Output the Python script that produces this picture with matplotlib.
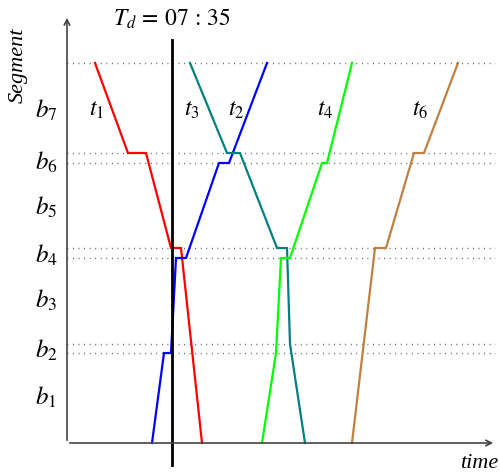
import matplotlib
matplotlib.use("Agg")
import matplotlib.pyplot as plt

plt.rcParams['mathtext.fontset'] = 'stix'
plt.rcParams['font.family'] = ['Liberation Serif', 'DejaVu Serif']

# Datos (tiempo en unidades arbitrarias, posicion a lo largo de la linea)
top = 380
stop_lines = [290, 280, 195, 185, 99, 90]
seg_labels = ['$b_7$', '$b_6$', '$b_5$', '$b_4$', '$b_3$', '$b_2$', '$b_1$']
seg_pos = [333, 281, 236, 188, 143, 93, 46]

t_d = 105

trains = {
    't1': ([28, 61, 79, 104, 114, 135], [380, 290, 290, 195, 195, 0], '#ff0000'),
    't2': ([85, 97, 104, 109, 119, 152, 162, 200], [0, 90, 90, 185, 185, 280, 280, 380], '#0000ff'),
    't3': ([123, 160, 173, 210, 220, 223, 238], [380, 290, 290, 195, 195, 99, 0], '#008080'),
    't4': ([195, 209, 214, 223, 255, 260, 285], [0, 90, 185, 185, 280, 280, 380], '#00ff00'),
    't6': ([285, 308, 319, 347, 357, 391], [0, 195, 195, 290, 290, 380], '#bf8040'),
}
train_label_x = {'t1': 30, 't3': 125, 't2': 169, 't4': 258, 't6': 353}
train_label_y = 333

fig = plt.figure(figsize=(5, 4.73), dpi=100)
ax = fig.add_axes([0, 0, 1, 1])
ax.set_xlim(-67, 433)
ax.set_ylim(-30, 443)
ax.axis('off')

# lineas punteadas de segmentos
for y in [top] + stop_lines:
    ax.plot([0, 428], [y, y], color='#444444', lw=1.0, linestyle=(0, (0.6, 3.4)))

# ejes con flechas
ax.annotate('', xy=(0, 428), xytext=(0, 0),
            arrowprops=dict(arrowstyle='->', color='#444444', lw=1.2))
ax.annotate('', xy=(429, 0), xytext=(0, 0),
            arrowprops=dict(arrowstyle='->', color='#444444', lw=1.2))

# trenes
for name, (t, p, c) in trains.items():
    ax.plot(t, p, color=c, lw=1.6, solid_joinstyle='miter')
    ax.text(train_label_x[name], train_label_y, '$t_{%s}$' % name[1:],
            fontsize=17, ha='center', va='center')

# linea de tiempo de decision
ax.plot([t_d, t_d], [-22, 403], color='black', lw=2)
ax.text(t_d, 424, r'$T_d\,=\,07\,:\,35$', fontsize=17, ha='center', va='center')

for lab, y in zip(seg_labels, seg_pos):
    ax.text(-21, y, lab, fontsize=18, ha='center', va='center')

ax.text(-49, 378, 'Segment', fontsize=16, style='italic', rotation=90,
        ha='center', va='center')
ax.text(393, -20, 'time', fontsize=16, style='italic', ha='left', va='center')

plt.savefig('out.png', dpi=100)
